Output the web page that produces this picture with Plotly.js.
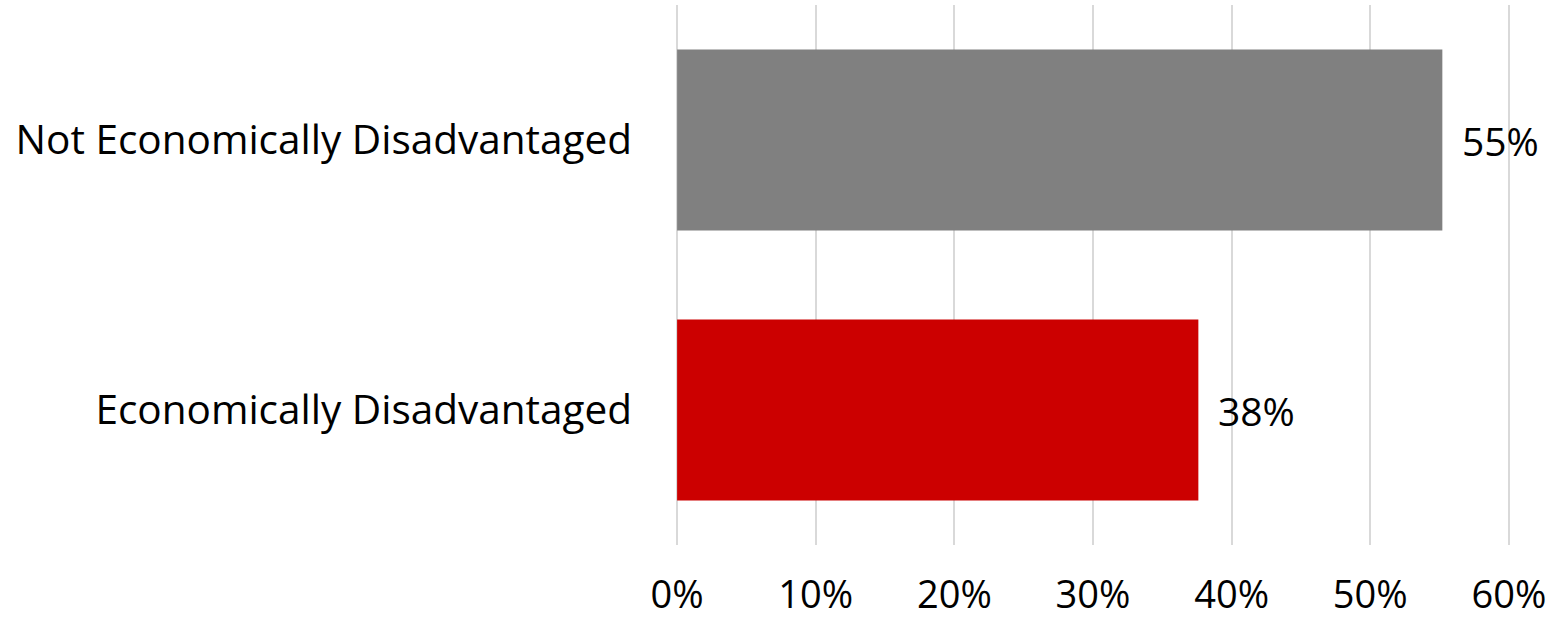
<!DOCTYPE html>
<html><head><meta charset="utf-8">
<script src="https://cdn.plot.ly/plotly-3.0.1.min.js"></script>
<style>html,body{margin:0;padding:0;background:#fff}#chart{width:1560px;height:624px}</style>
</head><body><div id="chart"></div>
<script>
const categories = ["Economically Disadvantaged", "Not Economically Disadvantaged"];
const values = [0.376, 0.552];
const labels = ["38%", "55%"];
const barColors = ["#CC0000", "#808080"];
const tickVals = [0, 0.1, 0.2, 0.3, 0.4, 0.5, 0.6];
const tickText = ["0%", "10%", "20%", "30%", "40%", "50%", "60%"];

const font = "'Open Sans', 'Noto Sans', sans-serif";
Plotly.newPlot("chart", [{
  type: "bar", orientation: "h",
  y: categories, x: values,
  marker: {color: barColors, line: {width: 0}},
  width: 0.67,
  text: labels, texttemplate: "\u00a0\u2009%{text}",
  textposition: "outside", cliponaxis: false, constraintext: "none",
  textfont: {family: font, size: 39, color: "#000"},
  hoverinfo: "none"
}], {
  width: 1560, height: 624,
  margin: {l: 676, r: 50, t: 5, b: 79},
  paper_bgcolor: "#fff", plot_bgcolor: "#fff",
  showlegend: false,
  font: {family: font, size: 39, color: "#000"},
  xaxis: {range: [-0.0008, 0.6008], tickvals: tickVals, ticktext: tickText,
    showgrid: true, gridcolor: "#D9D9D9", gridwidth: 2,
    zeroline: true, zerolinecolor: "#D9D9D9", zerolinewidth: 2,
    showline: false, ticks: "", ticklabelstandoff: 24, automargin: false,
    tickfont: {family: font, size: 38, color: "#000"}},
  yaxis: {range: [-0.5, 1.5], showgrid: false, zeroline: false, showline: false,
    ticks: "", ticklabelstandoff: 43, automargin: false,
    tickfont: {family: font, size: 40.5, color: "#000"}}
}, {staticPlot: true});
</script></body></html>
